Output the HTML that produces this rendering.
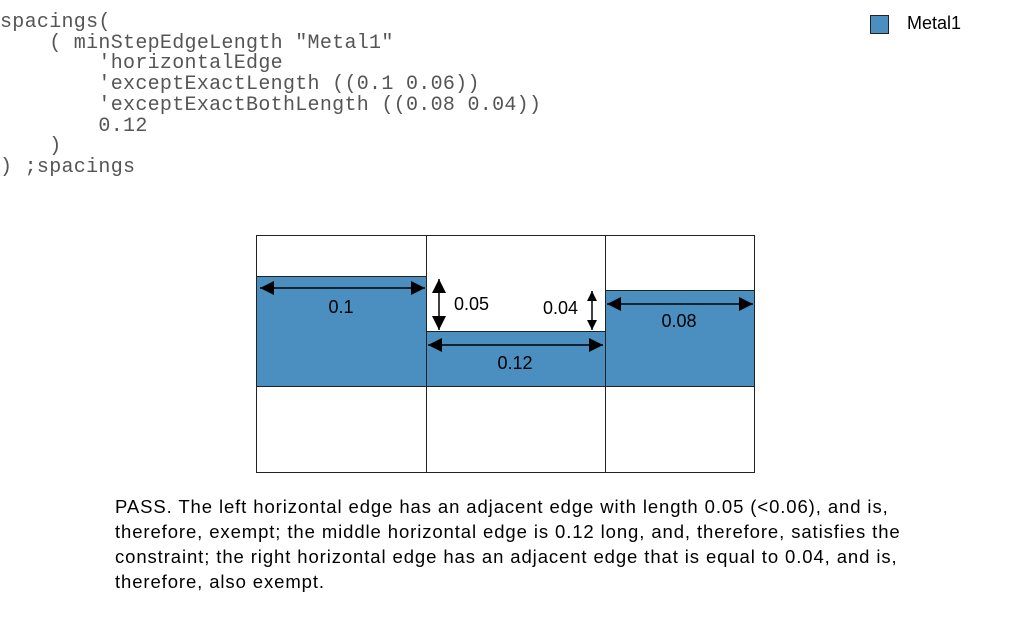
<!DOCTYPE html>
<html><head><style>
body{margin:0;width:1013px;height:624px;background:#fff;position:relative;overflow:hidden;font-family:"Liberation Sans",sans-serif}
pre{position:absolute;left:0;top:13px;margin:0;font-family:"Liberation Mono",monospace;font-size:20px;line-height:20.7px;color:#555;letter-spacing:0.3px}
.p{position:absolute;left:115px;top:494px;font-size:18.5px;line-height:25px;color:#000;width:800px;letter-spacing:0.9px}
</style></head><body>
<pre>spacings(
    ( minStepEdgeLength "Metal1"
        'horizontalEdge
        'exceptExactLength ((0.1 0.06))
        'exceptExactBothLength ((0.08 0.04))
        0.12
    )
) ;spacings</pre>
<div style="position:absolute;left:870px;top:15px;width:17px;height:17px;background:#4a8fbf;border:1px solid #222"></div>
<div style="position:absolute;left:907px;top:13px;font-size:18px">Metal1</div>
<svg width="1013" height="624" style="position:absolute;left:0;top:0" font-family="Liberation Sans, sans-serif" font-size="18">
<defs><marker id="a" viewBox="0 0 10 10" refX="10" refY="5" markerWidth="22" markerHeight="14" markerUnits="userSpaceOnUse" orient="auto-start-reverse"><path d="M0,0L10,5L0,10z" fill="#000"/></marker>
<marker id="b" viewBox="0 0 10 10" refX="10" refY="5" markerWidth="14" markerHeight="10" markerUnits="userSpaceOnUse" orient="auto-start-reverse"><path d="M0,0L10,5L0,10z" fill="#000"/></marker></defs>
<rect x="256" y="276" width="170" height="110" fill="#4a8fbf"/>
<rect x="426" y="331" width="179" height="55" fill="#4a8fbf"/>
<rect x="605" y="290" width="150" height="96" fill="#4a8fbf"/>
<g stroke="#222" stroke-width="1" fill="none">
<rect x="256.5" y="235.5" width="498" height="237"/>
<line x1="426.5" y1="235" x2="426.5" y2="472"/>
<line x1="605.5" y1="235" x2="605.5" y2="472"/>
<line x1="256" y1="276.5" x2="426" y2="276.5"/>
<line x1="426" y1="331.5" x2="605" y2="331.5"/>
<line x1="605" y1="290.5" x2="755" y2="290.5"/>
<line x1="256" y1="386.5" x2="755" y2="386.5"/>
</g>
<g stroke="#000" stroke-width="1.5">
<line x1="260" y1="288" x2="425" y2="288" marker-start="url(#a)" marker-end="url(#a)"/>
<line x1="428" y1="345" x2="603" y2="345" marker-start="url(#a)" marker-end="url(#a)"/>
<line x1="607" y1="304" x2="753" y2="304" marker-start="url(#a)" marker-end="url(#a)"/>
<line x1="439" y1="279" x2="439" y2="330" marker-start="url(#a)" marker-end="url(#a)"/>
<line x1="592" y1="291" x2="592" y2="330" marker-start="url(#b)" marker-end="url(#b)"/>
</g>
<text x="341" y="313" text-anchor="middle">0.1</text>
<text x="454" y="310">0.05</text>
<text x="543" y="314">0.04</text>
<text x="515" y="369" text-anchor="middle">0.12</text>
<text x="679" y="327" text-anchor="middle">0.08</text>
</svg>
<div class="p">PASS. The left horizontal edge has an adjacent edge with length 0.05 (&lt;0.06), and is, therefore, exempt; the middle horizontal edge is 0.12 long, and, therefore, satisfies the constraint; the right horizontal edge has an adjacent edge that is equal to 0.04, and is, therefore, also exempt.</div>
</body></html>
